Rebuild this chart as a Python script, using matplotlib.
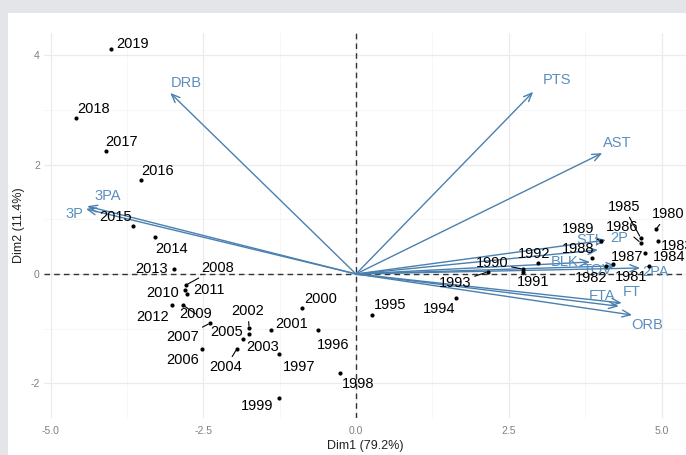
import matplotlib
matplotlib.use("Agg")
import matplotlib.pyplot as plt
from matplotlib.patches import Rectangle

plt.rcParams['font.family'] = ['Liberation Sans', 'DejaVu Sans']

# ---- data: individuals (seasons) ----
years = [2019, 2018, 2017, 2016, 2015, 2014, 2013, 2012, 2011, 2010,
         2009, 2008, 2007, 2006, 2005, 2004, 2003, 2002, 2001, 2000,
         1999, 1998, 1997, 1996, 1995, 1994, 1993, 1992, 1991, 1990,
         1989, 1988, 1987, 1986, 1985, 1984, 1983, 1982, 1981, 1980]
dim1 = [-4.01, -4.58, -4.09, -3.52, -3.65, -3.29, -2.98, -3.01, -2.77, -2.80,
        -2.83, -2.78, -2.39, -2.52, -1.75, -1.95, -1.85, -1.75, -1.39, -0.88,
        -1.26, -0.26, -1.26, -0.62, 0.26, 1.64, 2.16, 2.98, 2.73, 2.73,
        4.01, 3.86, 4.21, 4.66, 4.66, 4.73, 4.94, 4.09, 4.80, 4.91]
dim2 = [4.11, 2.85, 2.25, 1.72, 0.88, 0.68, 0.09, -0.57, -0.37, -0.29,
        -0.57, -0.20, -0.90, -1.37, -1.10, -1.37, -1.19, -0.99, -1.02, -0.62,
        -2.27, -1.81, -1.46, -1.02, -0.75, -0.44, 0.04, 0.20, 0.04, 0.09,
        0.60, 0.29, 0.18, 0.57, 0.66, 0.38, 0.60, 0.15, 0.15, 0.82]

# ---- data: variables (loadings, scaled) ----
variables = ['PTS', 'AST', 'DRB', '3PA', '3P', '2P', 'STL', 'BLK',
             'TOV', '2PA', 'FT', 'FTA', 'ORB']
var_dim1 = [2.90, 4.03, -3.04, -4.40, -4.42, 4.09, 3.96, 3.83,
            4.26, 4.65, 4.35, 4.30, 4.52]
var_dim2 = [3.33, 2.21, 3.31, 1.24, 1.19, 0.62, 0.44, 0.22,
            0.15, 0.11, -0.53, -0.59, -0.75]

x_label = 'Dim1 (79.2%)'
y_label = 'Dim2 (11.4%)'
x_ticks = [-5.0, -2.5, 0.0, 2.5, 5.0]
y_ticks = [-2, 0, 2, 4]

# ---- layout: label offsets in pixels (right, down) ----
year_offsets = {
    2019: (22, -5), 2018: (17, -9), 2017: (15, -9), 2016: (17, -9),
    2015: (-17, -9), 2014: (17, 12), 2013: (-22, 0), 2012: (-20, 12),
    2011: (22, -4), 2010: (-22, 3), 2009: (13, 9), 2008: (31, -17),
    2007: (-27, 14), 2006: (-19, 11), 2005: (-22, -2), 2004: (-11, 18),
    2003: (20, 8), 2002: (-1, -17), 2001: (21, -6), 2000: (18, -9),
    1999: (-22, 8), 1998: (18, 11), 1997: (20, 13), 1996: (15, 15),
    1995: (18, -10), 1994: (-17, 11), 1993: (-33, 11), 1992: (-4, -9),
    1991: (10, 10), 1990: (-31, -6), 1989: (-23, -12), 1988: (-14, -9),
    1987: (14, -7), 1986: (-19, -16), 1985: (-17, -31), 1984: (24, 4),
    1983: (19, 5), 1982: (-15, 12), 1981: (-18, 11), 1980: (12, -15),
}
segment_years = {2008, 2007, 2002, 2004, 2009, 1993, 1990, 1989, 1985, 1980, 1986}
var_offsets = {
    'PTS': (24, -12), 'AST': (15, -10), 'DRB': (16, -10), '3PA': (21, -10),
    '3P': (-12, 5), '2P': (13, -2), 'STL': (-8, -10), 'BLK': (-25, 0),
    'TOV': (-19, 4), '2PA': (15, 4), 'FT': (10, -11), 'FTA': (-17, -10),
    'ORB': (15, 10),
}

W, H = 686, 455
fig = plt.figure(figsize=(W / 100, H / 100), dpi=100)
fig.patch.set_facecolor('white')
# screenshot frame
fig.patches.append(Rectangle((0, 0), 8 / W, 1, transform=fig.transFigure,
                             facecolor='#e4e5e8', edgecolor='none', zorder=0))
fig.patches.append(Rectangle((0, 1 - 13 / H), 1, 13 / H, transform=fig.transFigure,
                             facecolor='#e4e5e8', edgecolor='none', zorder=0))

left, right, top, bottom = 44, 686, 33, 418
ax = fig.add_axes([left / W, 1 - bottom / H, (right - left) / W, (bottom - top) / H])
ax.set_facecolor('white')
x_lo, x_hi = (left - 356) / 61.1, (right - 356) / 61.1
y_hi, y_lo = (274 - top) / 54.7, (274 - bottom) / 54.7
ax.set_xlim(x_lo, x_hi)
ax.set_ylim(y_lo, y_hi)
for s in ax.spines.values():
    s.set_visible(False)

ax.set_xticks(x_ticks)
ax.set_xticklabels([f'{t:.1f}' for t in x_ticks])
ax.set_yticks(y_ticks)
ax.set_yticklabels([str(t) for t in y_ticks])
ax.set_xticks([-3.75, -1.25, 1.25, 3.75], minor=True)
ax.set_yticks([-1, 1, 3], minor=True)
ax.grid(True, which='major', color='#ebebeb', linewidth=0.9)
ax.grid(True, which='minor', color='#f3f3f3', linewidth=0.5)
ax.set_axisbelow(True)
ax.tick_params(which='both', length=0)
ax.tick_params(axis='x', labelsize=7.5, labelcolor='#808080', pad=6)
ax.tick_params(axis='y', labelsize=7.5, labelcolor='#808080', pad=3)
ax.set_xlabel(x_label, fontsize=9, color='#222222', labelpad=3)
ax.set_ylabel(y_label, fontsize=9, color='#222222', labelpad=4)

ax.axhline(0, color='#333333', linestyle=(0, (4, 3)), linewidth=1.0, zorder=1)
ax.axvline(0, color='#333333', linestyle=(0, (4, 3)), linewidth=1.0, zorder=1)

arrow_col = '#4a80b0'
for v, vx, vy in zip(variables, var_dim1, var_dim2):
    ax.annotate('', xy=(vx, vy), xytext=(0, 0),
                arrowprops=dict(arrowstyle='->,head_length=0.6,head_width=0.25',
                                color=arrow_col, lw=1.0, shrinkA=0, shrinkB=0),
                zorder=2)
    ox, oy = var_offsets[v]
    ax.annotate(v, xy=(vx, vy), xytext=(ox, -oy), textcoords='offset pixels',
                ha='center', va='center', fontsize=10.5, color='#5b8fbf', zorder=2)

ax.scatter(dim1, dim2, s=9, color='black', zorder=3, linewidths=0)
for yr, px, py in zip(years, dim1, dim2):
    ox, oy = year_offsets[yr]
    props = None
    if yr in segment_years:
        props = dict(arrowstyle='-', color='black', lw=0.8, shrinkA=0.5, shrinkB=1.5)
    ax.annotate(str(yr), xy=(px, py), xytext=(ox, -oy), textcoords='offset pixels',
                ha='center', va='center', fontsize=10.5, color='black',
                arrowprops=props, zorder=4)

fig.savefig('out.png', dpi=100)
